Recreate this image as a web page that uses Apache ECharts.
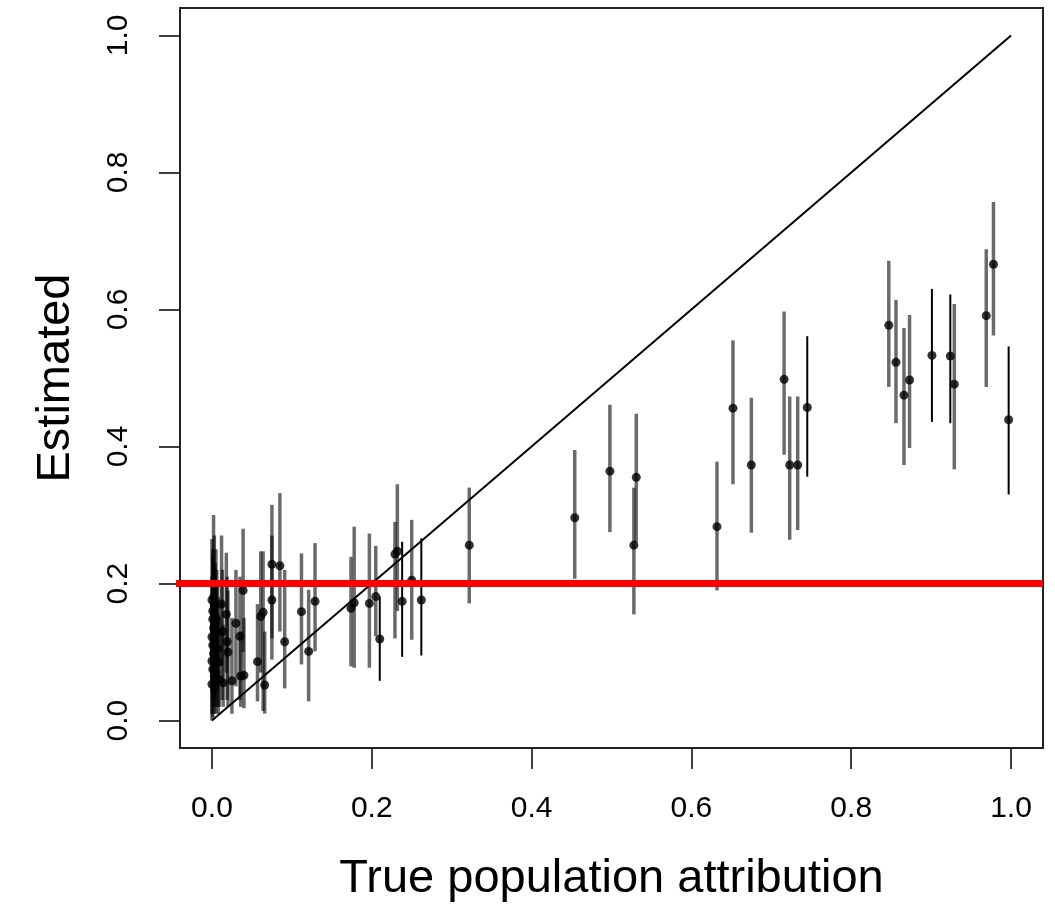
<!DOCTYPE html>
<html>
<head>
<meta charset="utf-8">
<script src="https://cdn.jsdelivr.net/npm/echarts@6/dist/echarts.min.js"></script>
<style>
  html, body { margin: 0; padding: 0; background: #fff; }
  #main { width: 1055px; height: 909px; }
</style>
</head>
<body>
<div id="main"></div>
<script>
// [true attribution, estimate, lower, upper]
var greyRows = [
  [0.000, 0.176, 0.09, 0.265], [0.001, 0.160, 0.07, 0.25], [0.001, 0.148, 0.06, 0.24],
  [0.002, 0.135, 0.05, 0.23], [0.000, 0.122, 0.04, 0.21], [0.001, 0.110, 0.03, 0.20],
  [0.002, 0.098, 0.02, 0.19], [0.000, 0.087, 0.01, 0.17], [0.001, 0.075, 0.005, 0.16],
  [0.003, 0.064, 0.01, 0.15], [0.000, 0.053, 0.00, 0.14], [0.002, 0.180, 0.10, 0.30],
  [0.003, 0.168, 0.08, 0.27], [0.004, 0.142, 0.06, 0.23], [0.003, 0.115, 0.03, 0.21],
  [0.004, 0.092, 0.02, 0.18], [0.005, 0.070, 0.01, 0.16], [0.005, 0.150, 0.06, 0.25],
  [0.006, 0.130, 0.04, 0.22], [0.007, 0.105, 0.02, 0.20], [0.008, 0.085, 0.01, 0.18],
  [0.009, 0.060, 0.02, 0.15], [0.012, 0.170, 0.08, 0.27], [0.013, 0.130, 0.03, 0.22],
  [0.014, 0.055, 0.02, 0.14], [0.018, 0.155, 0.07, 0.245], [0.019, 0.115, 0.03, 0.21],
  [0.020, 0.100, 0.02, 0.19], [0.025, 0.058, 0.01, 0.15], [0.030, 0.142, 0.05, 0.22],
  [0.035, 0.123, 0.03, 0.21], [0.036, 0.065, 0.02, 0.13], [0.039, 0.190, 0.10, 0.28],
  [0.040, 0.066, 0.018, 0.15],
  [0.057, 0.086, 0.028, 0.17], [0.061, 0.152, 0.07, 0.247], [0.064, 0.158, 0.014, 0.247],
  [0.066, 0.052, 0.01, 0.13], [0.075, 0.176, 0.089, 0.27], [0.075, 0.228, 0.12, 0.315],
  [0.085, 0.226, 0.13, 0.332], [0.091, 0.115, 0.047, 0.22], [0.112, 0.159, 0.082, 0.244],
  [0.121, 0.101, 0.028, 0.191], [0.129, 0.174, 0.101, 0.259], [0.174, 0.164, 0.079, 0.239],
  [0.178, 0.172, 0.077, 0.283], [0.197, 0.171, 0.077, 0.273], [0.205, 0.181, 0.123, 0.255],
  [0.229, 0.243, 0.12, 0.29], [0.232, 0.247, 0.16, 0.345], [0.250, 0.205, 0.118, 0.293],
  [0.322, 0.256, 0.171, 0.340], [0.454, 0.296, 0.207, 0.395], [0.498, 0.364, 0.275, 0.461],
  [0.528, 0.256, 0.155, 0.34], [0.531, 0.355, 0.26, 0.448], [0.632, 0.283, 0.190, 0.378],
  [0.652, 0.456, 0.345, 0.555], [0.675, 0.373, 0.274, 0.471], [0.716, 0.498, 0.388, 0.597],
  [0.723, 0.373, 0.264, 0.473], [0.733, 0.373, 0.278, 0.473], [0.847, 0.577, 0.487, 0.671],
  [0.856, 0.523, 0.434, 0.614], [0.866, 0.475, 0.373, 0.573], [0.873, 0.497, 0.398, 0.592],
  [0.929, 0.491, 0.367, 0.608], [0.969, 0.591, 0.487, 0.688], [0.978, 0.666, 0.562, 0.757]
];
var blackRows = [
  [0.210, 0.119, 0.058, 0.181], [0.238, 0.174, 0.093, 0.261], [0.262, 0.176, 0.095, 0.266],
  [0.745, 0.457, 0.356, 0.561], [0.901, 0.533, 0.436, 0.630], [0.924, 0.532, 0.434, 0.622],
  [0.997, 0.439, 0.330, 0.546]
];
var identityLine = [[0, 0], [1, 1]];
var thresholdY = 0.2;
var refLineX = [-0.057, 1.04];
var tickVals = [0, 0.2, 0.4, 0.6, 0.8, 1.0];

var chart = echarts.init(document.getElementById('main'));

function barItem(color, width) {
  return function (params, api) {
    var p1 = api.coord([api.value(0), api.value(1)]);
    var p2 = api.coord([api.value(0), api.value(2)]);
    return {
      type: 'line',
      shape: { x1: p1[0], y1: p1[1], x2: p2[0], y2: p2[1] },
      style: { stroke: color, lineWidth: width }
    };
  };
}

var allRows = greyRows.concat(blackRows);
var font = 'Liberation Sans, Arial, Helvetica, sans-serif';

function axisCommon(name) {
  return {
    type: 'value',
    min: -0.04,
    max: 1.04,
    name: name,
    nameLocation: 'middle',
    nameTextStyle: { fontSize: 47, color: '#000', fontFamily: font },
    axisLine: { show: false, onZero: false },
    splitLine: { show: false },
    axisTick: { show: true, length: 21, customValues: tickVals, lineStyle: { color: '#000', width: 1.5 } },
    axisLabel: {
      customValues: tickVals, fontSize: 30, color: '#000', fontFamily: font,
      formatter: function (v) { return v.toFixed(1); }
    }
  };
}

var xAx = axisCommon('True population attribution');
xAx.nameGap = 108;
xAx.axisLabel.margin = 46;
var yAx = axisCommon('Estimated');
yAx.nameGap = 100;
yAx.axisLabel.margin = 46;
yAx.axisLabel.rotate = 90;

chart.setOption({
  animation: false,
  backgroundColor: '#fff',
  grid: { left: 180, right: 12, top: 8, bottom: 161, show: true, borderColor: '#222', borderWidth: 2, backgroundColor: 'transparent' },
  xAxis: xAx,
  yAxis: yAx,
  series: [
    {
      type: 'custom',
      renderItem: barItem('rgba(0,0,0,0.58)', 3.5),
      data: greyRows.map(function (r) { return [r[0], r[2], r[3]]; }),
      encode: { x: 0, y: [1, 2] },
      z: 1
    },
    {
      type: 'custom',
      renderItem: barItem('#000', 2),
      data: blackRows.map(function (r) { return [r[0], r[2], r[3]]; }),
      encode: { x: 0, y: [1, 2] },
      z: 2
    },
    {
      type: 'scatter',
      symbol: 'circle',
      symbolSize: 9,
      itemStyle: { color: '#000' },
      data: allRows.map(function (r) { return [r[0], r[1]]; }),
      z: 3
    },
    {
      type: 'line',
      data: identityLine,
      symbol: 'none',
      lineStyle: { color: '#000', width: 2 },
      z: 4
    },
    {
      type: 'line',
      data: refLineX.map(function (x) { return [x, thresholdY]; }),
      symbol: 'none',
      clip: false,
      lineStyle: { color: '#ff0000', width: 7 },
      z: 5
    }
  ]
});
</script>
</body>
</html>
